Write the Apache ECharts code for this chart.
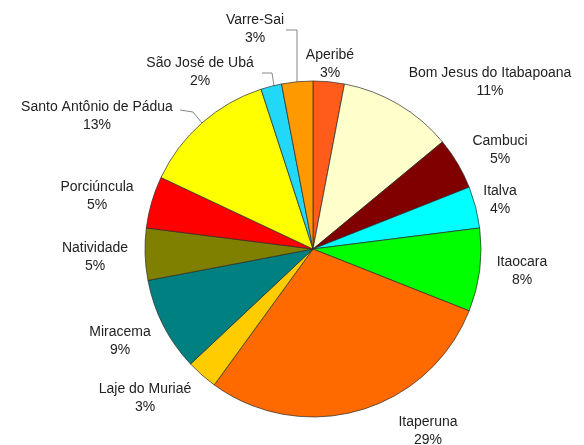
<!DOCTYPE html>
<html>
<head>
<meta charset="utf-8">
<script src="https://cdn.jsdelivr.net/npm/echarts@6/dist/echarts.min.js"></script>
<style>
  html, body { margin: 0; padding: 0; background: #fff; }
  #chart { width: 584px; height: 445px; }
</style>
</head>
<body>
<div id="chart"></div>
<script>
// clockwise from 12 o'clock
const municipios = [
    'Aperibé', 'Bom Jesus do Itabapoana', 'Cambuci', 'Italva', 'Itaocara',
    'Itaperuna', 'Laje do Muriaé', 'Miracema', 'Natividade', 'Porciúncula',
    'Santo Antônio de Pádua', 'São José de Ubá', 'Varre-Sai'
];
const percentuais = [3, 11, 5, 4, 8, 29, 3, 9, 5, 5, 13, 2, 3];
const cores = [
    '#FF5B1A', '#FFFFCC', '#800000', '#00FFFF', '#00FF00',
    '#FF6A00', '#FFCC00', '#008080', '#808000', '#FF0000',
    '#FFFF00', '#22D8F8', '#FF9900'
];

// where each label block sits (centre of text)
const labelPos = [
    [330, 64], [490, 82], [500, 150], [500, 200], [522, 271],
    [428, 431], [145, 398], [120, 341], [95, 257], [97, 196],
    [97, 116], [200, 72], [255, 29]
];
// leader lines, only three slices have them
const leaderLines = {
    10: [[180, 110], [193, 112], [202, 123]],
    11: [[262, 73], [272, 73], [274, 86]],
    12: [[286, 30], [297, 30], [297, 84]]
};

const chart = echarts.init(document.getElementById('chart'));

chart.setOption({
    animation: false,
    series: [{
        type: 'pie',
        center: [313, 249],
        radius: 168,
        startAngle: 90,
        clockwise: true,
        data: municipios.map((nome, i) => ({
            name: nome,
            value: percentuais[i],
            itemStyle: { color: cores[i] }
        })),
        itemStyle: {
            borderColor: '#2a2a2a',
            borderWidth: 0.7
        },
        label: {
            show: true,
            position: 'outside',
            alignTo: 'none',
            overflow: 'none',
            formatter: p => p.name + '\n' + p.value + '%',
            fontFamily: 'Liberation Sans, Arial, sans-serif',
            fontSize: 14,
            lineHeight: 18,
            color: '#222',
            align: 'center'
        },
        labelLine: {
            show: true,
            lineStyle: { color: '#888', width: 1 }
        },
        labelLayout: function (params) {
            const i = params.dataIndex;
            const pos = labelPos[i];
            return {
                x: pos[0],
                y: pos[1],
                width: 240,
                align: 'center',
                verticalAlign: 'middle',
                labelLinePoints: leaderLines[i] || [[0, 0], [0, 0], [0, 0]]
            };
        },
        emphasis: { disabled: true }
    }]
});
</script>
</body>
</html>
